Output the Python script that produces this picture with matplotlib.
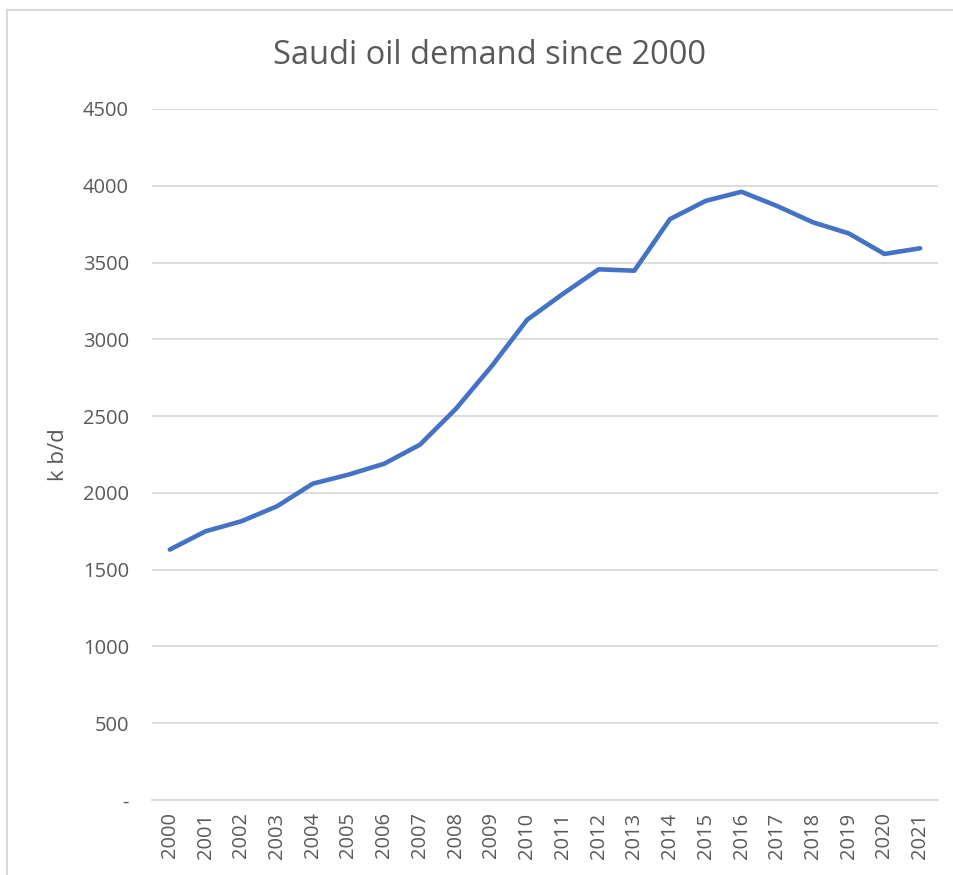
import matplotlib
matplotlib.use("Agg")
import matplotlib.pyplot as plt
from matplotlib.lines import Line2D

plt.rcParams['font.family'] = ['Open Sans', 'DejaVu Sans']

years = [str(y) for y in range(2000, 2022)]
demand = [1631, 1750, 1815, 1913, 2060, 2119, 2190, 2314, 2546, 2823, 3127,
          3296, 3456, 3447, 3783, 3902, 3961, 3868, 3762, 3690, 3556, 3593]
yticks = [0, 500, 1000, 1500, 2000, 2500, 3000, 3500, 4000, 4500]
ytick_labels = ['-'] + [str(v) for v in yticks[1:]]

text_col = '#595959'
grid_col = '#d9d9d9'

fig = plt.figure(figsize=(9.54, 8.75), dpi=100)
ax = fig.add_axes([152 / 954, 1 - 800 / 875, (938 - 152) / 954, (800 - 109) / 875])

x = range(len(years))
ax.plot(x, demand, color='#4472C4', lw=3.3, solid_capstyle='round', solid_joinstyle='round', zorder=3)

ax.set_xlim(-0.5, len(years) - 0.5)
ax.set_ylim(0, 4500)
ax.set_yticks(yticks)
ax.set_yticklabels(ytick_labels)
ax.set_xticks(list(x))
ax.set_xticklabels(years, rotation=90)
ax.grid(axis='y', color=grid_col, lw=1.3)
ax.set_axisbelow(True)
for s in ['top', 'right', 'left']:
    ax.spines[s].set_visible(False)
ax.spines['bottom'].set_color(grid_col)
ax.spines['bottom'].set_linewidth(1.3)
ax.tick_params(length=0, labelsize=14.5, colors=text_col)
ax.tick_params(axis='y', pad=16.5)
ax.tick_params(axis='x', pad=9)

ax.set_ylabel('k b/d', fontsize=16, color=text_col, labelpad=10)
fig.text(0.5128, 1 - 56 / 875, 'Saudi oil demand since 2000', ha='center', va='center',
         fontsize=23.5, color=text_col)

# chart border (top and left edges visible)
fig.add_artist(Line2D([7 / 954, 7 / 954], [0, 1 - 10 / 875], transform=fig.transFigure, color=grid_col, lw=1.5))
fig.add_artist(Line2D([7 / 954, 1], [1 - 10 / 875, 1 - 10 / 875], transform=fig.transFigure, color=grid_col, lw=1.5))

fig.savefig('out.png', dpi=100)
